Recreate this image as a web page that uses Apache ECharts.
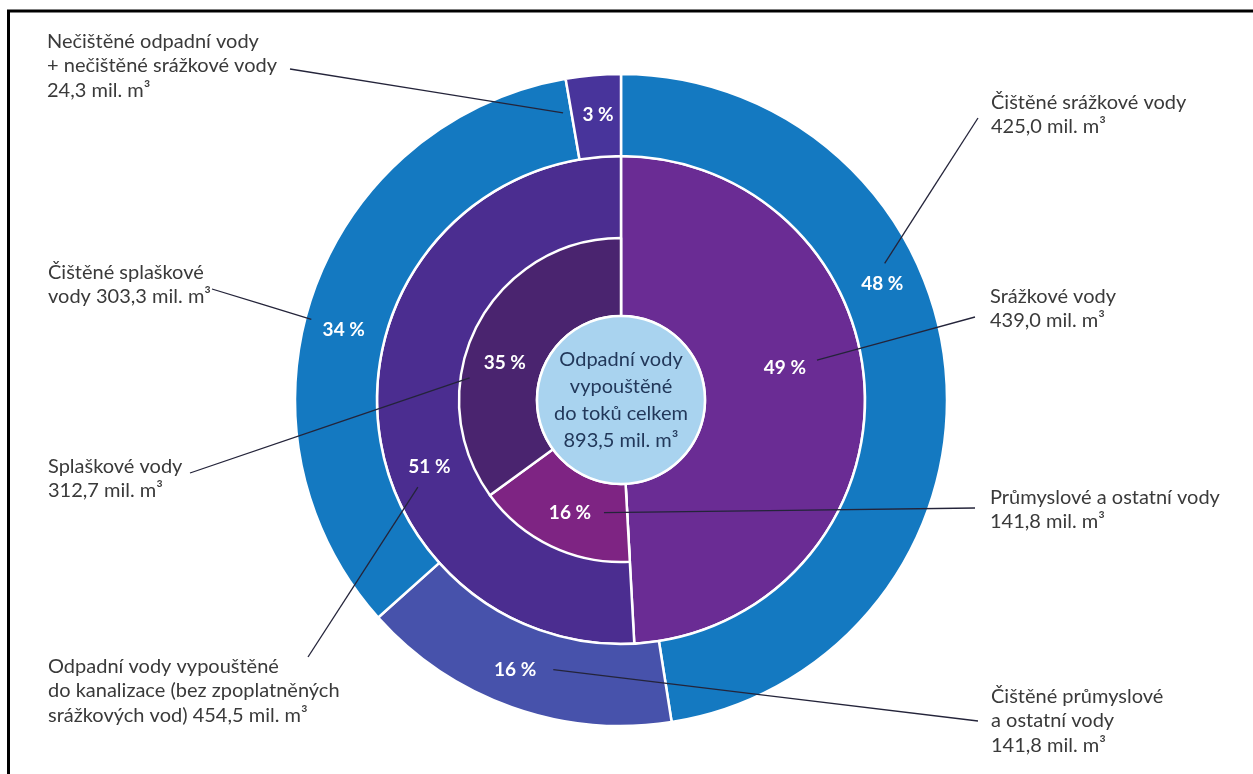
<!DOCTYPE html>
<html>
<head>
<meta charset="utf-8">
<script src="https://cdn.jsdelivr.net/npm/echarts@6/dist/echarts.min.js"></script>
<style>
html,body{margin:0;padding:0;background:#fff;}
#chart{width:1253px;height:774px;}
</style>
</head>
<body>
<div id="chart"></div>
<script>
// ---------------- data ----------------
const totalLabel = 'Odpadní vody\nvypouštěné\ndo toků celkem\n';
const totalValue = 893.5;

// middle ring (Srážkové vody spans the inner ring too)
const middleNames = ['Srážkové vody\n', 'Odpadní vody vypouštěné\ndo kanalizace (bez zpoplatněných\nsrážkových vod) '];
const middleValues = [439.0, 454.5];

// inner ring: breakdown of sewer discharge
const innerNames = ['Průmyslové a ostatní vody\n', 'Splaškové vody\n'];
const innerValues = [141.8, 312.7];

// outer ring
const outerNames = ['Čištěné srážkové vody\n', 'Čištěné průmyslové\na ostatní vody\n', 'Čištěné splaškové\nvody ', 'Nečištěné odpadní vody\n+ nečištěné srážkové vody\n'];
const outerValues = [425.0, 141.8, 303.3, 24.3];

// ---------------- colours ----------------
const centerColor = '#a9d3ef';
const middleColors = ['#6a2c94', '#4b2d90'];
const innerColors = ['#7e2483', '#4a246f'];
const outerColors = ['#1479c1', '#4752ab', '#1479c1', '#48349b'];

// ---------------- layout ----------------
const CX = 621, CY = 400;
const R_CENTER = 84, R_INNER = 162, R_MIDDLE = 244, R_OUTER = 326;
const FONT = 'Lato';

// percent label placement: [angle clockwise from 12 o'clock (deg), radius px]
const outerPctPos = [[66, 286], [201.4, 290], [284.2, 286], [355.4, 286]];
const middlePctPos = [[79, 167], [250.7, 203]];
const innerPctPos = [[204.3, 124], [287.7, 122]];

// callout boxes: text box top-left, leader line start (polar) and end (px)
const outerCallout = [
  { box: [991, 90], from: [62.6, 297], to: [978, 118] },
  { box: [991, 684], from: [194.1, 278], to: [978, 721] },
  { box: [48, 260], from: [284.6, 320], to: [212, 289] },
  { box: [47, 29], from: [348.6, 293], to: [290, 69] }
];
const middleCallout = [
  { box: [990, 284], from: [78.5, 200], to: [975, 317] },
  { box: [48, 654], from: [246.8, 221], to: [308, 657] }
];
const innerCallout = [
  { box: [990, 485], from: [188.6, 114], to: [975, 508] },
  { box: [48, 454], from: [278.3, 153], to: [190, 473] }
];

// ---------------- helpers ----------------
function polar(a, r) {
  const rad = a * Math.PI / 180;
  return [CX + r * Math.sin(rad), CY - r * Math.cos(rad)];
}
function fmt(v) { return v.toFixed(1).replace('.', ',') + ' mil. m³'; }
function pct(v) { return Math.round(v / totalValue * 100) + ' %'; }

const pctLabel = {
  show: true, position: 'inside', color: '#ffffff', fontFamily: FONT,
  fontWeight: 'bold', fontSize: 19,
  formatter: p => pct(p.value)
};
function pctLayout(posArr, offset) {
  return function (params) {
    const i = params.dataIndex - (offset || 0);
    if (i < 0 || !posArr[i]) return {};
    const p = polar(posArr[i][0], posArr[i][1]);
    return { x: p[0], y: p[1], align: 'center', verticalAlign: 'middle' };
  };
}
function calloutLayout(arr, offset) {
  return function (params) {
    const i = params.dataIndex - (offset || 0);
    if (i < 0 || !arr[i]) return {};
    const c = arr[i];
    const s = polar(c.from[0], c.from[1]);
    const m = [(s[0] + c.to[0]) / 2, (s[1] + c.to[1]) / 2];
    return {
      x: c.box[0], y: c.box[1], align: 'left', verticalAlign: 'top',
      labelLinePoints: [s, m, c.to]
    };
  };
}
const textLabel = {
  show: true, position: 'outside', color: '#3a3a3a', fontFamily: FONT,
  fontSize: 20, lineHeight: 24.5,
  formatter: p => p.name + fmt(p.value)
};
const textLine = { show: true, length: 10, length2: 10, lineStyle: { color: '#24243a', width: 1.3 } };
const border = { borderColor: '#ffffff', borderWidth: 2.5 };
const clear = { color: 'rgba(0,0,0,0)', borderWidth: 0 };

const common = { type: 'pie', center: [CX, CY], silent: true, avoidLabelOverlap: false, clockwise: true, startAngle: 90 };

const option = {
  animation: false,
  backgroundColor: '#ffffff',
  graphic: [{
    type: 'rect', silent: true,
    shape: { x: 8.5, y: 11, width: 1400, height: 900 },
    style: { fill: 'transparent', stroke: '#000000', lineWidth: 3 }
  }],
  series: [
    Object.assign({}, common, {
      name: 'middle', radius: [R_CENTER, R_MIDDLE], z: 2,
      data: middleValues.map((v, i) => ({ name: middleNames[i], value: v, itemStyle: Object.assign({ color: middleColors[i] }, border) })),
      label: pctLabel, labelLine: { show: false },
      labelLayout: pctLayout(middlePctPos, 0)
    }),
    Object.assign({}, common, {
      name: 'inner', radius: [R_CENTER, R_INNER], z: 2,
      data: [{ name: 'placeholder', value: middleValues[0], itemStyle: clear, label: { show: false } }]
        .concat(innerValues.map((v, i) => ({ name: innerNames[i], value: v, itemStyle: Object.assign({ color: innerColors[i] }, border) }))),
      label: pctLabel, labelLine: { show: false },
      labelLayout: pctLayout(innerPctPos, 1)
    }),
    Object.assign({}, common, {
      name: 'outer', radius: [R_MIDDLE, R_OUTER], z: 2,
      data: outerValues.map((v, i) => ({ name: outerNames[i], value: v, itemStyle: Object.assign({ color: outerColors[i] }, border) })),
      label: pctLabel, labelLine: { show: false },
      labelLayout: pctLayout(outerPctPos, 0)
    }),
    Object.assign({}, common, {
      name: 'center', radius: [0, R_CENTER], z: 2,
      data: [{ name: totalLabel, value: totalValue, itemStyle: Object.assign({ color: centerColor }, border) }],
      label: {
        show: true, position: 'center', color: '#22385a', fontFamily: FONT,
        fontSize: 20, lineHeight: 27, formatter: p => p.name + fmt(p.value)
      }
    }),
    // callout texts (transparent overlays of each ring)
    Object.assign({}, common, {
      name: 'outerText', radius: [R_MIDDLE, R_OUTER], z: 6,
      data: outerValues.map((v, i) => ({ name: outerNames[i], value: v, itemStyle: clear })),
      label: textLabel, labelLine: textLine,
      labelLayout: calloutLayout(outerCallout, 0)
    }),
    Object.assign({}, common, {
      name: 'middleText', radius: [R_CENTER, R_MIDDLE], z: 6,
      data: middleValues.map((v, i) => ({ name: middleNames[i], value: v, itemStyle: clear })),
      label: textLabel, labelLine: textLine,
      labelLayout: calloutLayout(middleCallout, 0)
    }),
    Object.assign({}, common, {
      name: 'innerText', radius: [R_CENTER, R_INNER], z: 6,
      data: [{ name: 'placeholder', value: middleValues[0], itemStyle: clear, label: { show: false }, labelLine: { show: false } }]
        .concat(innerValues.map((v, i) => ({ name: innerNames[i], value: v, itemStyle: clear }))),
      label: textLabel, labelLine: textLine,
      labelLayout: calloutLayout(innerCallout, 1)
    })
  ]
};

const chart = echarts.init(document.getElementById('chart'), null, { renderer: 'canvas' });
chart.setOption(option);
</script>
</body>
</html>
